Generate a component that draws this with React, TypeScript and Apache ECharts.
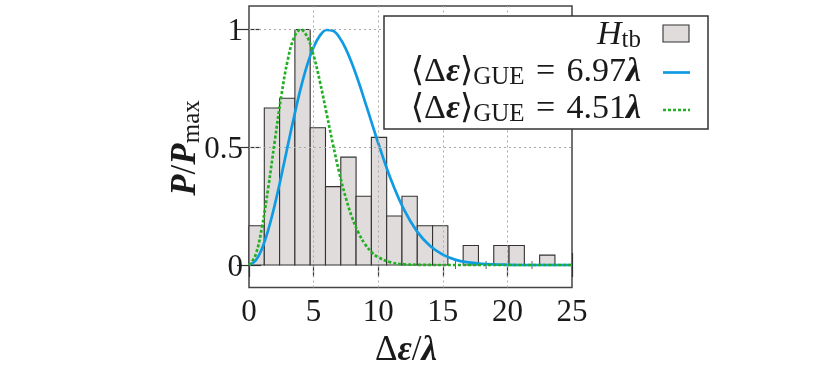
import { useEffect, useRef } from 'react';
import * as echarts from 'echarts';

// Histogram H_tb (normalised to its max)
const binWidth = 1.184;
const binHeights = [0.167, 0.667, 0.708, 1.0, 0.583, 0.333, 0.458, 0.292, 0.542, 0.208, 0.292, 0.167, 0.167, 0, 0.083, 0, 0.083, 0.083, 0, 0.042];

// GUE curve, <Δε> = 6.97λ
const gueWideX = [0, 0.5, 1, 1.5, 2, 2.5, 3, 3.5, 4, 4.5, 5, 5.5, 6, 6.5, 7, 7.5, 8, 8.5, 9, 9.5, 10, 11, 12, 13, 14, 15, 16, 17, 18, 20, 22, 25];
const gueWideY = [0, 0.018, 0.069, 0.151, 0.257, 0.378, 0.507, 0.633, 0.75, 0.849, 0.925, 0.975, 0.998, 0.995, 0.966, 0.917, 0.852, 0.775, 0.69, 0.604, 0.518, 0.361, 0.235, 0.143, 0.082, 0.044, 0.022, 0.011, 0.005, 0.001, 0, 0];

// GUE curve, <Δε> = 4.51λ
const gueNarrowX = [0, 0.5, 1, 1.5, 2, 2.5, 3, 3.5, 4, 4.5, 5, 5.5, 6, 6.5, 7, 7.5, 8, 8.5, 9, 9.5, 10, 11, 12, 13, 15, 25];
const gueNarrowY = [0, 0.042, 0.16, 0.332, 0.529, 0.718, 0.871, 0.968, 1, 0.97, 0.89, 0.776, 0.645, 0.512, 0.389, 0.284, 0.199, 0.134, 0.087, 0.054, 0.033, 0.011, 0.003, 0.001, 0, 0];

const xTicks = [0, 5, 10, 15, 20, 25];
const yTicks = [0, 0.5, 1];
const xGrid = [5, 10, 15, 20];
const yGrid = [0.5, 1];
const legendMeans = ['6.97', '4.51'];

const FONT = "'Liberation Serif', 'DejaVu Serif', 'DejaVu Sans', serif";
const BLUE = '#0f9be3';
const GREEN = '#22b022';
const BAR_FILL = '#e1dcdc';
const INK = '#1a1a1a';

function makeRich(main: number, sub: number, lh: number, subLh: number) {
  return {
    n: { fontFamily: FONT, fontSize: main, fill: INK, lineHeight: lh },
    b: { fontFamily: FONT, fontSize: main, fill: INK, fontStyle: 'italic', fontWeight: 'bold', lineHeight: lh },
    i: { fontFamily: FONT, fontSize: main, fill: INK, fontStyle: 'italic', lineHeight: lh },
    s: { fontFamily: FONT, fontSize: sub, fill: INK, lineHeight: subLh, verticalAlign: 'bottom' },
  };
}

export default function App() {
  const ref = useRef<HTMLDivElement>(null);

  useEffect(() => {
    document.body.style.margin = '0';
    const chart = echarts.init(ref.current!, null, { renderer: 'svg' });

    const barData = binHeights.map((h, i) => [i * binWidth, (i + 1) * binWidth, h]);
    const wideData = gueWideX.map((x, i) => [x, gueWideY[i]]);
    const narrowData = gueNarrowX.map((x, i) => [x, gueNarrowY[i]]);

    const legendRich: any = makeRich(34, 25, 38, 19);
    const titleRich: any = makeRich(35, 25, 40, 20);

    const legendRows = [
      { text: '{i|H}{s|tb}', y: 32 },
      { text: `{n|⟨Δ}{b|ε}{n|⟩}{s|GUE}{n|\u2004=\u2004${legendMeans[0]}}{b|λ}`, y: 69 },
      { text: `{n|⟨Δ}{b|ε}{n|⟩}{s|GUE}{n|\u2004=\u2004${legendMeans[1]}}{b|λ}`, y: 106 },
    ];

    const option: any = {
      animation: false,
      grid: {
        left: 249, top: 6, width: 323, height: 281.5,
        show: true, borderColor: '#444', borderWidth: 1.5, backgroundColor: 'transparent',
      },
      xAxis: [
        {
          type: 'value', min: 0, max: 25, interval: 5,
          axisLine: { show: false },
          axisTick: { show: true, inside: true, length: 12, lineStyle: { color: '#333', width: 1.2 } },
          axisLabel: { show: true, margin: 7, fontFamily: FONT, fontSize: 31, color: INK, customValues: xTicks },
          splitLine: { show: false },
        },
        {
          type: 'value', min: 0, max: 25, interval: 5, position: 'top',
          axisLine: { show: false },
          axisTick: { show: true, inside: true, length: 12, lineStyle: { color: '#333', width: 1.2 } },
          axisLabel: { show: false },
          splitLine: { show: false },
        },
      ],
      yAxis: [
        {
          type: 'value', min: -0.0955, max: 1.1,
          axisLine: { show: false },
          axisTick: { show: true, inside: true, length: 12, customValues: yTicks, lineStyle: { color: '#333', width: 1.2 } },
          axisLabel: {
            show: true, margin: 6, fontFamily: FONT, fontSize: 31, color: INK, customValues: yTicks,
            formatter: (v: number) => (v === 0.5 ? '0.5' : String(v)),
          },
          splitLine: { show: false },
        },
        {
          type: 'value', min: -0.0955, max: 1.1, position: 'right',
          axisLine: { show: false },
          axisTick: { show: true, inside: true, length: 12, customValues: yTicks, lineStyle: { color: '#333', width: 1.2 } },
          axisLabel: { show: false },
          splitLine: { show: false },
        },
      ],
      series: [
        {
          type: 'custom',
          z: 2,
          data: barData,
          renderItem: (_params: any, api: any) => {
            const x0 = api.value(0);
            const x1 = api.value(1);
            const h = api.value(2);
            const p0 = api.coord([x0, h]);
            const p1 = api.coord([x1, 0]);
            if (h <= 0) {
              const cx = (p0[0] + p1[0]) / 2;
              return {
                type: 'line',
                shape: { x1: cx, y1: p1[1] - 4, x2: cx, y2: p1[1] + 4 },
                style: { stroke: '#666', lineWidth: 1 },
              };
            }
            return {
              type: 'rect',
              shape: { x: p0[0], y: p0[1], width: p1[0] - p0[0], height: p1[1] - p0[1] },
              style: { fill: BAR_FILL, stroke: '#333', lineWidth: 1.1 },
            };
          },
        },
        {
          type: 'line',
          z: 3,
          data: [],
          silent: true,
          markLine: {
            silent: true,
            symbol: 'none',
            label: { show: false },
            lineStyle: { color: '#aaa', type: [2, 3], width: 1 },
            data: [
              ...xGrid.map((v) => ({ xAxis: v })),
              ...yGrid.map((v) => ({ yAxis: v })),
            ],
          },
        },
        {
          type: 'line',
          z: 4,
          data: wideData,
          smooth: 0.4,
          showSymbol: false,
          lineStyle: { color: BLUE, width: 2.7 },
        },
        {
          type: 'line',
          z: 5,
          data: narrowData,
          smooth: 0.4,
          showSymbol: false,
          lineStyle: { color: GREEN, width: 2.7, type: [3, 2] },
        },
      ],
      graphic: [
        {
          type: 'rect', z: 100,
          shape: { x: 384, y: 16, width: 324, height: 113 },
          style: { fill: '#fff', stroke: '#333', lineWidth: 1.5 },
        },
        ...legendRows.map((r) => ({
          type: 'text', z: 101,
          style: {
            x: 641, y: r.y, text: r.text, rich: legendRich,
            textAlign: 'right', textVerticalAlign: 'middle',
          },
        })),
        {
          type: 'rect', z: 101,
          shape: { x: 663, y: 25, width: 26, height: 17 },
          style: { fill: BAR_FILL, stroke: '#333', lineWidth: 1.1 },
        },
        {
          type: 'line', z: 101,
          shape: { x1: 663, y1: 72.5, x2: 690, y2: 72.5 },
          style: { stroke: BLUE, lineWidth: 2.7 },
        },
        {
          type: 'line', z: 101,
          shape: { x1: 663, y1: 110, x2: 690, y2: 110 },
          style: { stroke: GREEN, lineWidth: 2.7, lineDash: [3, 2] },
        },
        {
          type: 'text', z: 101,
          style: {
            x: 406, y: 348, text: '{n|Δ}{b|ε}{n|/}{b|λ}', rich: titleRich,
            textAlign: 'center', textVerticalAlign: 'middle',
          },
        },
        {
          type: 'text', z: 101,
          x: 183, y: 148, rotation: Math.PI / 2,
          style: {
            x: 0, y: 0, text: '{b|P}{n|/}{b|P}{s|max}', rich: titleRich,
            textAlign: 'center', textVerticalAlign: 'middle',
          },
        },
      ],
    };

    chart.setOption(option);
    return () => chart.dispose();
  }, []);

  return <div ref={ref} style={{ position: 'fixed', left: 0, top: 0, width: 830, height: 370 }} />;
}
